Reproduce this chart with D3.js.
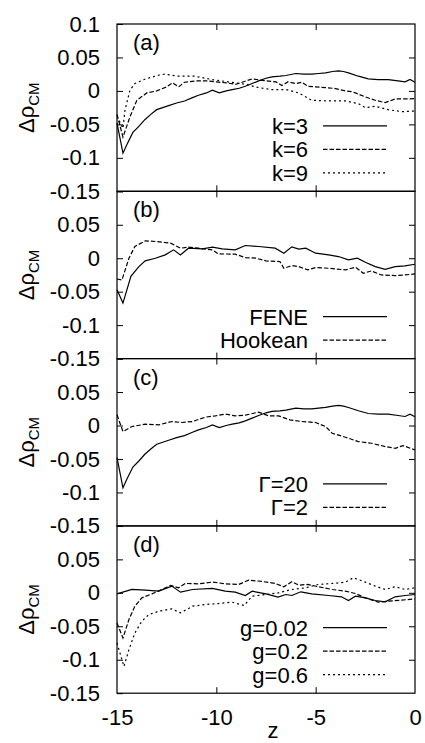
<!DOCTYPE html>
<meta charset="utf-8">
<head>
<title>Delta rho CM profiles</title>
<style>
  body { margin: 0; background: #fff; }
  svg text { font-family: "Liberation Sans", Arial, sans-serif; fill: #000; }
  .frame { fill: none; stroke: #000; stroke-width: 1.2; }
  .tick line { stroke: #000; stroke-width: 1; }
  .curve { fill: none; stroke: #000; stroke-width: 1.2; }
</style>
</head>
<body>
<script src="https://d3js.org/d3.v7.min.js"></script>
<script>
// axis ticks
var xTicks = [-15, -10, -5, 0];
var yTicks = [-0.15, -0.1, -0.05, 0, 0.05, 0.1];

// (a) spring constant k   ([z, delta rho])
var k3 = [[-15,-0.048],[-14.7,-0.093],[-14.5,-0.080],[-14.2,-0.062],[-13.9,-0.053],[-13.6,-0.043],[-13.3,-0.035],
  [-13.0,-0.028],[-12.7,-0.025],[-12.4,-0.022],[-12.0,-0.018],[-11.6,-0.015],[-11.2,-0.010],[-10.9,-0.0065],
  [-10.5,-0.003],[-10.2,0.001],[-9.85,-0.003],[-9.5,0.0],[-9.2,0.002],[-8.85,0.004],[-8.54,0.007],[-8.2,0.011],
  [-7.87,0.015],[-7.5,0.019],[-7.2,0.021],[-6.8,0.022],[-6.5,0.023],[-6.0,0.026],[-5.6,0.025],[-5.2,0.025],
  [-4.85,0.026],[-4.5,0.027],[-4.15,0.029],[-3.85,0.030],[-3.6,0.029],[-3.35,0.027],[-2.85,0.022],[-2.35,0.018],
  [-1.85,0.017],[-1.35,0.017],[-0.85,0.015],[-0.5,0.0135],[-0.25,0.017],[0,0.013]];
var k6 = [[-15,-0.035],[-14.7,-0.069],[-14.35,-0.039],[-14.0,-0.014],[-13.5,-0.003],[-13.0,0.0],[-12.5,0.006],
  [-12.2,0.012],[-11.9,0.006],[-11.6,0.013],[-11.0,0.015],[-10.5,0.015],[-10.0,0.0135],[-9.5,0.012],[-9.0,0.010],
  [-8.5,0.015],[-8.2,0.018],[-7.5,0.015],[-7.0,0.0135],[-6.7,0.008],[-6.4,0.0135],[-6.0,0.011],[-5.7,0.013],
  [-5.4,0.007],[-5.0,0.006],[-4.5,0.005],[-4.0,0.0035],[-3.5,0.0],[-3.2,-0.001],[-3.0,-0.003],[-2.5,-0.009],
  [-2.0,-0.014],[-1.5,-0.0175],[-1.0,-0.012],[-0.5,-0.012],[0,-0.0115]];
var k9 = [[-15,-0.038],[-14.7,-0.056],[-14.6,-0.029],[-14.35,0.001],[-14.1,0.011],[-13.6,0.0175],[-12.9,0.0235],
  [-12.6,0.025],[-11.9,0.022],[-11.1,0.022],[-10.2,0.017],[-9.4,0.0135],[-8.54,0.010],[-7.87,0.005],[-7.2,0.002],
  [-6.5,0.002],[-5.85,-0.003],[-5.2,-0.014],[-4.35,-0.015],[-3.5,-0.015],[-2.85,-0.019],[-2.5,-0.025],
  [-2.0,-0.023],[-1.35,-0.028],[-0.67,-0.031],[0,-0.030]];

// (b) spring type
var fene = [[-15,-0.047],[-14.7,-0.067],[-14.3,-0.027],[-13.9,-0.0125],[-13.58,-0.004],[-13.07,0.0],[-12.57,0.005],
  [-12.15,0.0125],[-11.81,0.005],[-11.4,0.015],[-10.7,0.014],[-10.2,0.0165],[-9.7,0.014],[-9.05,0.0125],
  [-8.54,0.019],[-7.87,0.0175],[-7.04,0.015],[-6.6,0.0075],[-6.2,0.017],[-5.85,0.0135],[-5.5,0.015],[-5.0,0.0075],
  [-4.35,0.005],[-3.85,0.0025],[-3.35,-0.0025],[-2.9,0.0],[-2.5,-0.006],[-2.0,-0.0125],[-1.5,-0.0165],
  [-1.0,-0.0125],[-0.5,-0.0115],[0,-0.009]];
var hookean = [[-15,-0.031],[-14.75,-0.0325],[-14.4,0.0],[-14.1,0.0175],[-13.58,0.026],[-13.07,0.025],
  [-12.3,0.0225],[-11.8,0.015],[-11.4,0.0165],[-10.9,0.015],[-10.2,0.0125],[-9.9,0.0065],[-9.05,0.006],
  [-8.54,0.001],[-8.0,0.0],[-7.5,-0.004],[-6.8,-0.005],[-6.6,-0.015],[-6.2,-0.011],[-5.85,-0.0125],
  [-5.4,-0.0175],[-5.0,-0.014],[-4.35,-0.015],[-3.5,-0.0175],[-3.0,-0.0135],[-2.6,-0.0225],[-2.2,-0.019],
  [-1.7,-0.025],[-1.0,-0.026],[-0.5,-0.025],[0,-0.0235]];

// (c) friction Gamma (Gamma=20 is the same run as k=3)
var gamma20 = k3;
var gamma2 = [[-15,0.016],[-14.7,-0.009],[-14.25,-0.0015],[-13.58,0.002],[-12.9,0.001],[-12.24,0.006],
  [-11.73,0.0045],[-11.2,0.006],[-10.55,0.0125],[-10.05,0.0145],[-9.55,0.017],[-9.05,0.0145],[-8.54,0.0155],
  [-7.87,0.020],[-7.37,0.0145],[-6.87,0.0145],[-6.3,0.0085],[-5.7,0.006],[-5.0,0.0045],[-4.5,-0.0015],
  [-4.17,-0.0115],[-3.5,-0.0175],[-2.85,-0.024],[-2.18,-0.0265],[-1.5,-0.0315],[-1.0,-0.034],[-0.6,-0.030],
  [0,-0.0365]];

// (d) gravity g
var g002 = [[-15,-0.0015],[-14.25,0.005],[-13.58,0.004],[-12.9,0.0025],[-12.24,0.010],[-11.8,0.001],
  [-11.2,0.005],[-10.2,0.0065],[-9.55,0.0025],[-9.05,0.001],[-8.54,-0.004],[-8.2,0.0025],[-7.5,-0.0015],
  [-6.9,-0.0065],[-6.5,-0.0025],[-6.2,-0.004],[-5.75,0.0015],[-5.2,-0.0015],[-4.35,-0.004],[-3.7,-0.006],
  [-3.35,-0.0115],[-3.0,-0.005],[-2.5,-0.0075],[-2.0,-0.0115],[-1.5,-0.0135],[-1.0,-0.006],[-0.5,-0.004],
  [0,-0.0025]];
var g02 = [[-15,-0.045],[-14.7,-0.0675],[-14.4,-0.040],[-14.1,-0.020],[-13.75,-0.0075],[-13.24,-0.0015],
  [-12.74,0.005],[-12.3,0.011],[-11.9,0.0075],[-11.56,0.014],[-10.9,0.0135],[-10.2,0.016],[-9.55,0.0135],
  [-8.87,0.0125],[-8.37,0.019],[-7.7,0.017],[-7.04,0.014],[-6.6,0.009],[-6.2,0.0165],[-5.85,0.0115],
  [-5.4,0.0125],[-4.85,0.009],[-4.17,0.005],[-3.5,0.0025],[-3.0,-0.001],[-2.5,-0.0075],[-1.85,-0.014],
  [-1.35,-0.0125],[-0.67,-0.011],[0,-0.009]];
var g06 = [[-15,-0.075],[-14.65,-0.110],[-14.4,-0.085],[-14.1,-0.060],[-13.75,-0.0425],[-13.4,-0.0325],
  [-12.9,-0.0275],[-12.24,-0.024],[-11.8,-0.030],[-11.2,-0.020],[-10.55,-0.0175],[-9.9,-0.016],[-9.2,-0.014],
  [-8.6,-0.019],[-8.2,-0.005],[-7.5,-0.0025],[-6.87,0.0],[-6.2,0.005],[-5.5,0.0075],[-4.85,0.0125],
  [-4.17,0.014],[-3.5,0.016],[-3.1,0.0225],[-2.5,0.016],[-2.0,0.010],[-1.5,0.005],[-1.0,0.009],[-0.5,0.005],
  [0,0.0075]];

var panels = [
  { tag: "(a)", series: [k3, k6, k9], names: ["k=3", "k=6", "k=9"] },
  { tag: "(b)", series: [fene, hookean], names: ["FENE", "Hookean"] },
  { tag: "(c)", series: [gamma20, gamma2], names: ["\u0393=20", "\u0393=2"] },
  { tag: "(d)", series: [g002, g02, g06], names: ["g=0.02", "g=0.2", "g=0.6"] }
];
var dashes = [null, "4.5,2", "2,3"];

var width = 425, height = 743;
var left = 117, right = 415, top0 = 24, ph = 167.3;
var fs = 22;

var svg = d3.select("body").append("svg")
  .attr("width", width).attr("height", height);

var x = d3.scaleLinear().domain([-15, 0]).range([left, right]);

var fmt = function(d) { return String(+d.toFixed(2)); };

panels.forEach(function(p, i) {
  var top = top0 + i * ph, bot = top + ph;
  var y = d3.scaleLinear().domain([-0.15, 0.1]).range([bot, top]);

  // left axis with labels, ticks pointing inside
  svg.append("g")
    .attr("transform", "translate(" + left + ",0)")
    .call(d3.axisLeft(y).tickValues(yTicks).tickSizeInner(-6).tickSizeOuter(0).tickPadding(17)
      .tickFormat(function(d) { return (i > 0 && d > 0.09) ? "" : fmt(d); }))
    .call(function(g) { g.select(".domain").remove(); g.selectAll("text").style("font-size", fs + "px"); });
  // right mirror ticks
  svg.append("g")
    .attr("transform", "translate(" + right + ",0)")
    .call(d3.axisRight(y).tickValues(yTicks.slice(1, -1)).tickSizeInner(-6).tickSizeOuter(0).tickFormat(""))
    .call(function(g) { g.select(".domain").remove(); });
  // top / bottom x ticks
  svg.append("g")
    .attr("transform", "translate(0," + top + ")")
    .call(d3.axisTop(x).tickValues(xTicks.slice(1, -1)).tickSizeInner(-6).tickSizeOuter(0).tickFormat(""))
    .call(function(g) { g.select(".domain").remove(); });
  var bx = svg.append("g")
    .attr("transform", "translate(0," + bot + ")")
    .call(d3.axisBottom(x).tickValues(i === 3 ? xTicks : xTicks.slice(1, -1)).tickSizeInner(-6).tickSizeOuter(0)
      .tickPadding(16).tickFormat(i === 3 ? fmt : ""))
    .call(function(g) { g.select(".domain").remove(); g.selectAll("text").style("font-size", fs + "px"); });
  if (i === 3) bx.selectAll(".tick").filter(function(d) { return d === -15 || d === 0; }).select("line").remove();

  svg.append("rect").attr("class", "frame")
    .attr("x", left).attr("y", top).attr("width", right - left).attr("height", ph);

  var line = d3.line().x(function(d) { return x(d[0]); }).y(function(d) { return y(d[1]); });

  p.series.forEach(function(s, j) {
    svg.append("path").datum(s).attr("class", "curve")
      .attr("d", line)
      .attr("stroke-dasharray", dashes[j]);

    var ry = bot - 18.5 - 23.5 * (p.series.length - 1 - j);
    svg.append("text")
      .attr("x", 308).attr("y", ry + 8)
      .attr("text-anchor", "end")
      .style("font-size", fs + "px")
      .text(p.names[j]);
    svg.append("line").attr("class", "curve")
      .attr("x1", 323).attr("x2", 387).attr("y1", ry).attr("y2", ry)
      .attr("stroke-dasharray", dashes[j]);
  });

  svg.append("text")
    .attr("x", 133).attr("y", top + 26)
    .style("font-size", fs + "px")
    .text(p.tag);

  // y axis label
  var lab = svg.append("text")
    .attr("transform", "translate(34," + (top + ph / 2) + ") rotate(-90)")
    .attr("text-anchor", "middle")
    .style("font-size", fs + "px");
  lab.append("tspan").text("\u0394\u03c1");
  lab.append("tspan").attr("dy", 5).style("font-size", "15px").text("CM");
});

svg.append("text")
  .attr("x", 273).attr("y", 738)
  .attr("text-anchor", "middle")
  .style("font-size", fs + "px")
  .text("z");
</script>
</body>
</html>
